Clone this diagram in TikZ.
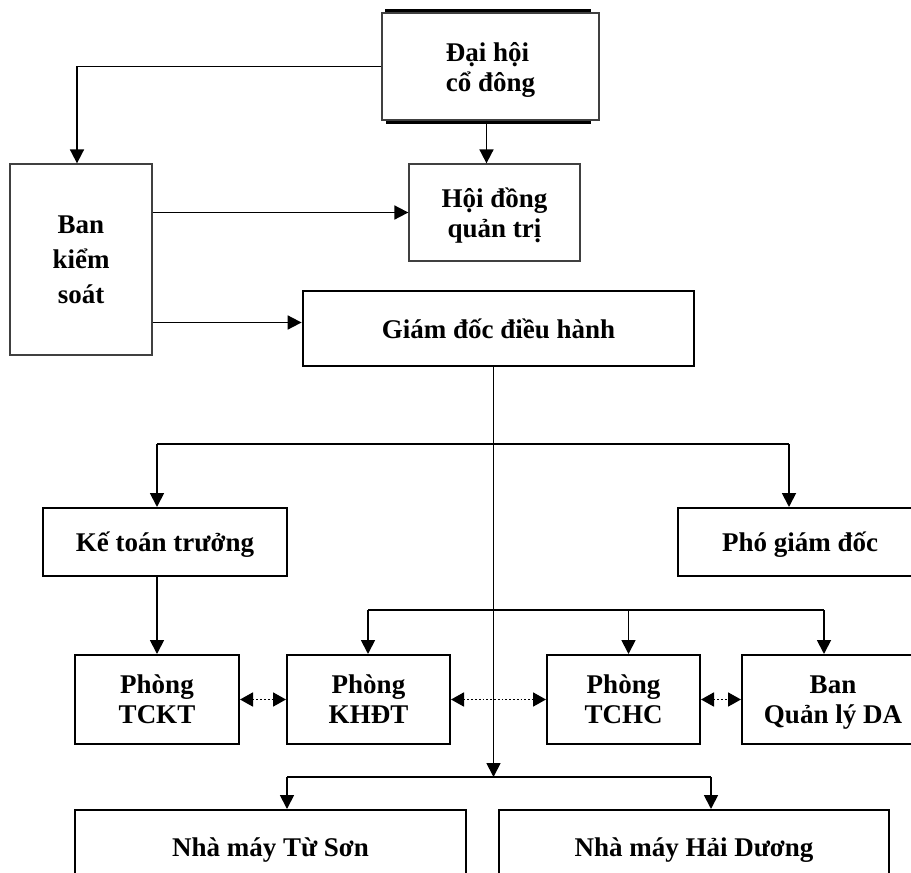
\documentclass[tikz,border=0pt]{standalone}
\usepackage{fontspec}
\setmainfont{Liberation Serif}
\usetikzlibrary{arrows.meta,calc}

\tikzset{
	hop/.style={draw,line width=2pt,align=center,inner sep=2pt,text depth=0pt,font=\bfseries\fontsize{27}{30}\selectfont},
	hoptren/.style={hop,draw=black!75,line width=1.3pt},
	muiten/.style={line width=1.8pt,-{Triangle[length=14pt,width=14pt]}},
	haichieu/.style={line width=1.8pt,dotted,{Triangle[length=13pt,width=14pt]}-{Triangle[length=13pt,width=14pt]}}
}

\begin{document}
\begin{tikzpicture}[x=1pt,y=-1pt]
		\clip (0,0) rectangle (911,873);
		\node[hoptren,align=left,minimum width=217pt,minimum height=107pt] (DH) at (490.5,66.5) {Đại hội\\cổ đông};
		\draw[line width=3pt] ([xshift=4pt,yshift=2pt]DH.north west) -- ([xshift=-9pt,yshift=2pt]DH.north east);
		\draw[line width=3pt] ([xshift=5pt,yshift=-2pt]DH.south west) -- ([xshift=-9pt,yshift=-2pt]DH.south east);
		\node[hoptren,minimum width=171pt,minimum height=97pt] (HD) at (494.5,212.5) {Hội đồng\\quản trị};
		\node[hoptren,font=\bfseries\fontsize{27}{35}\selectfont,minimum width=142pt,minimum height=191pt] (BKS) at (81,259.5) {Ban\\kiểm\\soát};
		\node[hop,line width=2.8pt,minimum width=391pt,minimum height=75pt] (GD) at (498.5,328.5) {Giám đốc điều hành};
		\node[hop,minimum width=244pt,minimum height=68pt] (KTT) at (165,542) {Kế toán trưởng};
		\node[hop,minimum width=244pt,minimum height=68pt] (PGD) at (800,542) {Phó giám đốc};
		\node[hop,minimum width=164pt,minimum height=89pt] (TCKT) at (157,699.5) {Phòng\\TCKT};
		\node[hop,minimum width=163pt,minimum height=89pt] (KHDT) at (368.5,699.5) {Phòng\\KHĐT};
		\node[hop,minimum width=153pt,minimum height=89pt] (TCHC) at (623.5,699.5) {Phòng\\TCHC};
		\node[hop,minimum width=182pt,minimum height=89pt] (BQL) at (833,699.5) {Ban\\Quản lý DA};
		\node[hop,minimum width=391pt,minimum height=74pt] (NMTS) at (270.5,847) {Nhà máy Từ Sơn};
		\node[hop,minimum width=390pt,minimum height=74pt] (NMHD) at (694,847) {Nhà máy Hải Dương};

		\coordinate (r1) at (157,444);
		\coordinate (r2) at (789,444);
		\coordinate (r3) at (368,610);
		\coordinate (r4) at (824,610);
		\coordinate (r5) at (287,777);
		\coordinate (r6) at (711,777);

		\draw[muiten] (DH.west) -| ([xshift=-4pt]BKS.north);
		\draw[muiten] ([xshift=-4pt]DH.south) -- ([xshift=-4pt]DH.south |- HD.north);
		\draw[muiten] (BKS.east |- HD) -- (HD.west);
		\draw[muiten] ([yshift=6pt]BKS.east |- GD) -- ([yshift=6pt]GD.west);
		\draw[muiten] ([xshift=-5pt]GD.south) -- ([xshift=-5pt]GD.south |- r5);

		\draw[line width=1.8pt] (r1) -- (r2);
		\draw[muiten] (r1) -- (r1 |- KTT.north);
		\draw[muiten] (r2) -- (r2 |- PGD.north);
		\draw[muiten] (TCKT |- KTT.south) -- (TCKT.north);

		\draw[line width=1.8pt] (r3) -- (r4);
		\draw[muiten] (r3) -- (r3 |- KHDT.north);
		\draw[muiten] ([xshift=5pt]r3 -| TCHC) -- ([xshift=5pt]TCHC.north);
		\draw[muiten] (r4) -- (r4 |- BQL.north);

		\draw[line width=1.8pt] (r5) -- (r6);
		\draw[muiten] (r5) -- (r5 |- NMTS.north);
		\draw[muiten] (r6) -- (r6 |- NMHD.north);

		\draw[haichieu] (TCKT.east) -- (KHDT.west);
		\draw[haichieu] (KHDT.east) -- (TCHC.west);
		\draw[haichieu] (TCHC.east) -- (BQL.west);
	\end{tikzpicture}
\end{document}
